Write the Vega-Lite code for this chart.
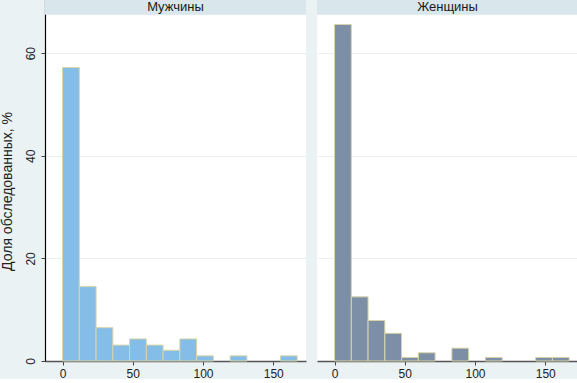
{
  "$schema": "https://vega.github.io/schema/vega-lite/v6.json",
  "background": "#EAF2F3",
  "padding": 0,
  "spacing": 11,
  "datasets": {
    "bars": [
      {"sex": "Мужчины", "start": 0, "end": 11.93, "pct": 57.2},
      {"sex": "Мужчины", "start": 11.93, "end": 23.86, "pct": 14.5},
      {"sex": "Мужчины", "start": 23.86, "end": 35.79, "pct": 6.5},
      {"sex": "Мужчины", "start": 35.79, "end": 47.72, "pct": 3.1},
      {"sex": "Мужчины", "start": 47.72, "end": 59.65, "pct": 4.3},
      {"sex": "Мужчины", "start": 59.65, "end": 71.58, "pct": 3.1},
      {"sex": "Мужчины", "start": 71.58, "end": 83.51, "pct": 2.1},
      {"sex": "Мужчины", "start": 83.51, "end": 95.44, "pct": 4.3},
      {"sex": "Мужчины", "start": 95.44, "end": 107.37, "pct": 1.0},
      {"sex": "Мужчины", "start": 119.3, "end": 131.23, "pct": 1.0},
      {"sex": "Мужчины", "start": 155.09, "end": 167.02, "pct": 1.0},
      {"sex": "Женщины", "start": 0, "end": 11.93, "pct": 65.6},
      {"sex": "Женщины", "start": 11.93, "end": 23.86, "pct": 12.5},
      {"sex": "Женщины", "start": 23.86, "end": 35.79, "pct": 7.9},
      {"sex": "Женщины", "start": 35.79, "end": 47.72, "pct": 5.4},
      {"sex": "Женщины", "start": 47.72, "end": 59.65, "pct": 0.7},
      {"sex": "Женщины", "start": 59.65, "end": 71.58, "pct": 1.6},
      {"sex": "Женщины", "start": 83.51, "end": 95.44, "pct": 2.5},
      {"sex": "Женщины", "start": 107.37, "end": 119.3, "pct": 0.7},
      {"sex": "Женщины", "start": 143.16, "end": 155.09, "pct": 0.7},
      {"sex": "Женщины", "start": 155.09, "end": 167.02, "pct": 0.7}
    ],
    "panels": [
      {"sex": "Мужчины"},
      {"sex": "Женщины"}
    ]
  },
  "hconcat": [
    {
      "width": 261,
      "height": 361,
      "layer": [
        {
          "data": {"name": "bars"},
          "transform": [{"filter": "datum.sex === 'Мужчины'"}],
          "mark": {"type": "rect", "fill": "#84BEE8", "stroke": "#D8D4A8", "strokeWidth": 1},
          "encoding": {
            "x": {"field": "start", "type": "quantitative",
                  "scale": {"domain": [-12.5, 173.3], "nice": false, "zero": false},
                  "axis": {"values": [0, 50, 100, 150], "title": null, "grid": false}},
            "x2": {"field": "end"},
            "y": {"field": "pct", "type": "quantitative",
                  "scale": {"domain": [0, 70.37], "nice": false},
                  "axis": {"values": [0, 20, 40, 60], "title": "Доля обследованных, %",
                           "labelAngle": 270, "labelAlign": "center", "labelBaseline": "bottom",
                           "domainColor": "#000000", "domainWidth": 1.2, "titleY": 191, "titlePadding": 10}},
            "y2": {"datum": 0}
          }
        },
        {
          "data": {"name": "panels"},
          "transform": [{"filter": "datum.sex === 'Мужчины'"}],
          "mark": {"type": "rect", "fill": "#D9E6EB"},
          "encoding": {
            "y": {"datum": 67.5, "type": "quantitative"},
            "y2": {"datum": 70.37}
          }
        },
        {
          "data": {"name": "panels"},
          "transform": [{"filter": "datum.sex === 'Мужчины'"}],
          "mark": {"type": "text", "fontSize": 13, "color": "#1a1a1a", "baseline": "alphabetic", "align": "center", "clip": true},
          "encoding": {
            "y": {"datum": 68.13, "type": "quantitative"},
            "text": {"field": "sex"}
          }
        }
      ]
    },
    {
      "width": 261,
      "height": 361,
      "layer": [
        {
          "data": {"name": "bars"},
          "transform": [{"filter": "datum.sex === 'Женщины'"}],
          "mark": {"type": "rect", "fill": "#7C8FA7", "stroke": "#D8D4A8", "strokeWidth": 1},
          "encoding": {
            "x": {"field": "start", "type": "quantitative",
                  "scale": {"domain": [-12.5, 173.3], "nice": false, "zero": false},
                  "axis": {"values": [0, 50, 100, 150], "title": null, "grid": false}},
            "x2": {"field": "end"},
            "y": {"field": "pct", "type": "quantitative",
                  "scale": {"domain": [0, 70.37], "nice": false},
                  "axis": {"values": [20, 40, 60], "title": null, "labels": false, "ticks": false, "domain": false}},
            "y2": {"datum": 0}
          }
        },
        {
          "data": {"name": "panels"},
          "transform": [{"filter": "datum.sex === 'Женщины'"}],
          "mark": {"type": "rect", "fill": "#D9E6EB"},
          "encoding": {
            "y": {"datum": 67.5, "type": "quantitative"},
            "y2": {"datum": 70.37}
          }
        },
        {
          "data": {"name": "panels"},
          "transform": [{"filter": "datum.sex === 'Женщины'"}],
          "mark": {"type": "text", "fontSize": 13, "color": "#1a1a1a", "baseline": "alphabetic", "align": "center", "clip": true},
          "encoding": {
            "y": {"datum": 68.13, "type": "quantitative"},
            "text": {"field": "sex"}
          }
        }
      ]
    }
  ],
  "config": {
    "font": "Liberation Sans",
    "view": {"fill": "white", "stroke": null},
    "axis": {
      "labelFont": "Liberation Sans",
      "titleFont": "Liberation Sans",
      "labelFontSize": 12,
      "labelColor": "#222222",
      "titleFontSize": 14,
      "titleFontWeight": "normal",
      "titleColor": "#222222",
      "tickColor": "#444444",
      "tickSize": 4,
      "labelPadding": 4,
      "gridColor": "#EAF0F2",
      "gridWidth": 1
    },
    "axisX": {"domainColor": "#555555", "domainWidth": 1.6, "labelPadding": 3}
  }
}
